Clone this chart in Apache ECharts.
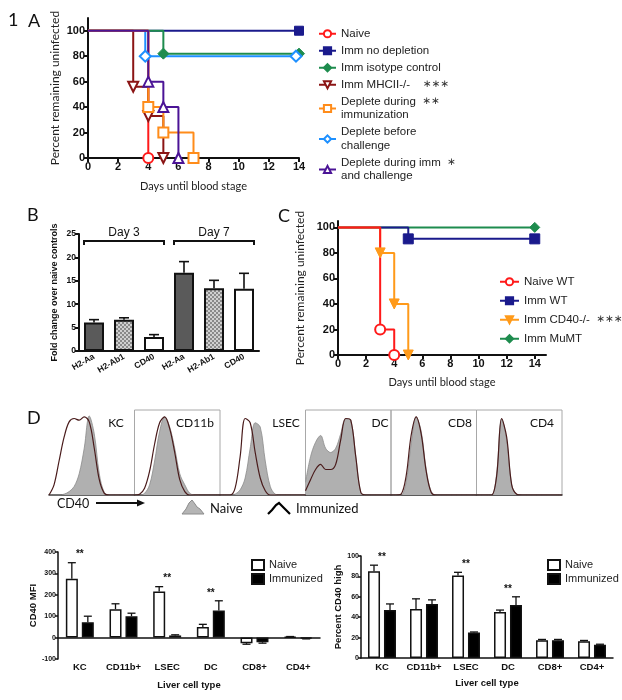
<!DOCTYPE html>
<html>
<head>
<meta charset="utf-8">
<script src="https://cdn.jsdelivr.net/npm/echarts@6/dist/echarts.min.js"></script>
<style>
  html, body { margin: 0; padding: 0; background: #fff; }
  #main { width: 622px; height: 700px; }
</style>
</head>
<body>
<div id="main"></div>
<script>
// ---- panel A: survival, [day, percent uninfected]
var aNaive = [[0, 100], [4, 0]];
var aImmNoDep = [[0, 100], [14, 100]];
var aIsotype = [[0, 100], [5, 82], [14, 82]];
var aMHCII = [[0, 100], [3, 56], [4, 33], [5, 0]];
var aDepImm = [[0, 100], [4, 40], [5, 20], [7, 0]];
var aDepBefore = [[0, 100], [3.8, 80], [13.8, 80]];
var aDepBoth = [[0, 100], [4, 60], [5, 40], [6, 0]];
var dayTicks = [0, 2, 4, 6, 8, 10, 12, 14];
var pctTicks = [0, 20, 40, 60, 80, 100];

// ---- panel B: fold change
var bGenes = ['H2-Aa', 'H2-Ab1', 'CD40', 'H2-Aa', 'H2-Ab1', 'CD40'];
var bFold = [6.1, 6.7, 3.0, 16.7, 13.4, 13.3];
var bErrTop = [6.7, 7.1, 3.5, 19.1, 15.1, 16.6];
var bGroups = ['Day 3', 'Day 7'];
var bGroupSpan = [[0, 2], [3, 5]];

// ---- panel C: survival
var cNaiveWT = [[0, 100], [3, 20], [4, 0]];
var cImmWT = [[0, 100], [5, 91], [14, 91]];
var cCD40 = [[0, 100], [3, 80], [4, 40], [5, 0]];
var cMuMT = [[0, 100], [14, 100]];

// ---- panel D: CD40 histograms (relative counts per bin)
var histBins = [0, 5, 10, 15, 20, 25, 30, 35, 40, 45, 50, 55, 60, 65, 70, 75, 80, 85];
var histCells = ['KC', 'CD11b', 'LSEC', 'DC', 'CD8', 'CD4'];
var kcNaive    = [0, 0, 0, 1, 4, 10, 25, 55, 93, 72, 25, 3, 0, 0, 0, 0, 0, 0];
var kcImm      = [0, 12, 40, 68, 86, 90, 88, 92, 86, 55, 18, 2, 0, 0, 0, 0, 0, 0];
var cd11bNaive = [0, 0, 2, 12, 40, 75, 92, 80, 55, 25, 12, 2, 0, 0, 0, 0, 0, 0];
var cd11bImm   = [0, 1, 8, 28, 60, 85, 92, 78, 50, 18, 4, 0, 0, 0, 0, 0, 0, 0];
var lsecNaive  = [0, 0, 0, 1, 6, 20, 55, 85, 80, 40, 10, 1, 0, 0, 0, 0, 0, 0];
var lsecImm    = [0, 0, 0, 8, 45, 90, 85, 50, 20, 5, 0, 0, 0, 0, 0, 0, 0, 0];
var dcNaive    = [15, 45, 62, 70, 55, 50, 55, 72, 90, 88, 45, 3, 0, 0, 0, 0, 0, 0];
var dcImm      = [5, 18, 30, 36, 30, 30, 36, 65, 90, 88, 45, 3, 0, 0, 0, 0, 0, 0];
var cd8Naive   = [0, 0, 0, 15, 60, 92, 75, 30, 4, 0, 0, 0, 0, 0, 0, 0, 0, 0];
var cd8Imm     = [0, 0, 1, 22, 70, 92, 72, 28, 3, 0, 0, 0, 0, 0, 0, 0, 0, 0];
var cd4Naive   = [0, 0, 0, 0, 25, 90, 65, 12, 1, 0, 0, 0, 0, 0, 0, 0, 0, 0];
var cd4Imm     = [0, 0, 0, 0, 22, 90, 68, 12, 1, 0, 0, 0, 0, 0, 0, 0, 0, 0];
var histNaive = [kcNaive, cd11bNaive, lsecNaive, dcNaive, cd8Naive, cd4Naive];
var histImm = [kcImm, cd11bImm, lsecImm, dcImm, cd8Imm, cd4Imm];

// ---- bottom bars
var cellTypes = ['KC', 'CD11b+', 'LSEC', 'DC', 'CD8+', 'CD4+'];
var mfiNaive = [275, 133, 215, 50, -26, 3];
var mfiNaiveErr = [350, 158, 238, 62, -31, 5];
var mfiImm = [72, 100, 10, 127, -22, -4];
var mfiImmErr = [100, 114, 13, 172, -26, -6];
var mfiSig = ['**', '', '**', '**', '', ''];
var highNaive = [85, 48, 81, 45, 17.5, 16.5];
var highNaiveErr = [91, 58, 84, 47, 18.2, 17.2];
var highImm = [47, 53, 25, 52, 17.5, 13];
var highImmErr = [53, 57, 25.5, 60, 18.2, 13.5];
var highSig = ['**', '', '**', '**', '', ''];

var FONT = "'Liberation Sans', Arial, sans-serif";
var CAL = "Lato, 'Open Sans', sans-serif";
var INK = '#111';

var aLegendText = {
  'Naive': 'Naive',
  'Imm no depletion': 'Imm no depletion',
  'Imm isotype control': 'Imm isotype control',
  'Imm MHCII-/-': 'Imm MHCII-/-    {s|\u2217\u2217\u2217}',
  'Deplete during immunization': 'Deplete during  {s|\u2217\u2217}\nimmunization',
  'Deplete before challenge': 'Deplete before\nchallenge',
  'Deplete during imm and challenge': 'Deplete during imm  {s|\u2217}\nand challenge'
};
var cLegendText = {
  'Naive WT': 'Naive WT', 'Imm WT': 'Imm WT',
  'Imm CD40-/-': 'Imm CD40-/-  {s|\u2217\u2217\u2217}', 'Imm MuMT': 'Imm MuMT'
};

// checkered fill for H2-Ab1 bars
var pc = document.createElement('canvas');
pc.width = 4; pc.height = 4;
var pctx = pc.getContext('2d');
pctx.fillStyle = '#d0d0d0'; pctx.fillRect(0, 0, 4, 4);
pctx.fillStyle = '#8a8a8a'; pctx.fillRect(0, 0, 2, 2); pctx.fillRect(2, 2, 2, 2);
var geneFill = { 'H2-Aa': '#5a5a5a', 'H2-Ab1': { image: pc, repeat: 'repeat' }, 'CD40': '#ffffff' };

function kmSeries(name, pts, color, symbol, open, gi, size, rotate) {
  return {
    name: name, type: 'line', step: 'end', xAxisIndex: gi, yAxisIndex: gi, clip: false,
    symbol: symbol, symbolSize: size, symbolRotate: rotate || 0,
    lineStyle: { color: color, width: 2 },
    itemStyle: open ? { color: '#fff', borderColor: color, borderWidth: 2 } : { color: color, borderColor: color, borderWidth: 1 },
    emphasis: { disabled: true },
    data: pts.map(function (p, i) { return i === 0 ? { value: p, symbol: 'none' } : { value: p }; }),
    z: 3
  };
}

function errBars(gi, vals, tops, dx, cap, lw) {
  return {
    type: 'custom', xAxisIndex: gi, yAxisIndex: gi, z: 4, silent: true,
    data: vals.map(function (v, i) { return [i, v, tops[i]]; }),
    renderItem: function (params, api) {
      var p0 = api.coord([api.value(0), api.value(1)]);
      var p1 = api.coord([api.value(0), api.value(2)]);
      var x = p0[0] + dx;
      return { type: 'group', children: [
        { type: 'line', shape: { x1: x, y1: p0[1], x2: x, y2: p1[1] }, style: { stroke: INK, lineWidth: lw } },
        { type: 'line', shape: { x1: x - cap, y1: p1[1], x2: x + cap, y2: p1[1] }, style: { stroke: INK, lineWidth: lw } }
      ] };
    }
  };
}

function sigMarks(gi, sig, topsA, topsB) {
  var d = [];
  sig.forEach(function (s, i) { if (s) d.push([i, Math.max(topsA[i], topsB[i])]); });
  return {
    type: 'custom', xAxisIndex: gi, yAxisIndex: gi, z: 5, silent: true, data: d,
    renderItem: function (params, api) {
      var p = api.coord([api.value(0), api.value(1)]);
      return { type: 'text', style: { text: sig[api.value(0)], x: p[0], y: p[1] - 3,
        textAlign: 'center', align: 'center', textVerticalAlign: 'bottom', verticalAlign: 'bottom',
        font: 'bold 10px ' + FONT, fill: INK } };
    }
  };
}

function kmAxes(gi, xmax, ymax, xname, yname, xgap, ygap) {
  var lbl = { fontFamily: FONT, fontWeight: 'bold', fontSize: 11, color: INK };
  return {
    x: { gridIndex: gi, type: 'value', min: 0, max: xmax,
      axisLine: { onZero: false, lineStyle: { color: INK, width: 2 } },
      axisTick: { customValues: dayTicks, length: 4, lineStyle: { color: INK, width: 2 } },
      axisLabel: Object.assign({ customValues: dayTicks, margin: 3 }, lbl),
      splitLine: { show: false },
      name: xname, nameLocation: 'middle', nameGap: xgap, nameMoveOverlap: false,
      nameTextStyle: { fontFamily: CAL, fontSize: 11, color: '#222' } },
    y: { gridIndex: gi, type: 'value', min: 0, max: ymax,
      axisLine: { show: true, onZero: false, lineStyle: { color: INK, width: 2 } },
      axisTick: { show: true, customValues: pctTicks, length: 4, lineStyle: { color: INK, width: 2 } },
      axisLabel: Object.assign({ customValues: pctTicks, margin: 3 }, lbl),
      splitLine: { show: false },
      name: yname, nameLocation: 'middle', nameGap: ygap, nameMoveOverlap: false,
      nameTextStyle: { fontFamily: CAL, fontSize: 12, color: '#222' } }
  };
}

var grids = [
  { left: 88, top: 18, width: 211, height: 140 },      // A
  { left: 79, top: 234, width: 180, height: 117 },     // B
  { left: 338, top: 221, width: 208, height: 134 }     // C
];
for (var h = 0; h < 6; h++) {
  var boxed = (h === 1 || h === 3 || h === 4 || h === 5);
  grids.push({ left: 49 + h * 85.5, top: 410, width: 85.5, height: 85,
    show: boxed, borderColor: '#a8a8a8', borderWidth: 1, backgroundColor: 'transparent' });
}
grids.push({ left: 58, top: 552, width: 262, height: 107 });   // MFI
grids.push({ left: 361, top: 556, width: 252, height: 102 });  // percent high
grids.forEach(function (g) { g.outerBoundsMode = 'none'; g.containLabel = false; });

var axA = kmAxes(0, 14, 110, 'Days until blood stage', 'Percent remaining uninfected', 23, 27);
var axC = kmAxes(2, 14.8, 105, 'Days until blood stage', 'Percent remaining uninfected', 22, 32);

var xAxes = [axA.x, {
  gridIndex: 1, type: 'category', data: bGenes,
  axisLine: { lineStyle: { color: INK, width: 2 } }, axisTick: { show: false },
  axisLabel: { interval: 0, rotate: 30, margin: 5, fontFamily: FONT, fontWeight: 'bold', fontSize: 8.5, color: INK }
}, axC.x];
var yAxes = [axA.y, {
  gridIndex: 1, type: 'value', min: 0, max: 25, interval: 5,
  axisLine: { show: true, lineStyle: { color: INK, width: 2 } },
  axisTick: { show: true, length: 4, lineStyle: { color: INK, width: 2 } },
  axisLabel: { margin: 3, fontFamily: FONT, fontWeight: 'bold', fontSize: 8.5, color: INK },
  splitLine: { show: false },
  name: 'Fold change over naive controls', nameLocation: 'middle', nameGap: 20, nameMoveOverlap: false,
  nameTextStyle: { fontFamily: FONT, fontWeight: 'bold', fontSize: 9, color: INK }
}, axC.y];
for (h = 0; h < 6; h++) {
  xAxes.push({ gridIndex: 3 + h, type: 'value', min: 0, max: 85,
    axisLine: { lineStyle: { color: '#333', width: 1.5 } }, axisTick: { show: false },
    axisLabel: { show: false }, splitLine: { show: false } });
  yAxes.push({ gridIndex: 3 + h, type: 'value', min: 0, max: 100, show: false });
}
function barAxes(gi, min, max, step, yname, margin, xgap, ygap) {
  return {
    x: { gridIndex: gi, type: 'category', data: cellTypes,
      axisLine: { onZero: true, lineStyle: { color: INK, width: 1.5 } }, axisTick: { show: false },
      axisLabel: { interval: 0, margin: margin, fontFamily: FONT, fontWeight: 'bold', fontSize: 9.5, color: INK },
      name: 'Liver cell type', nameLocation: 'middle', nameGap: xgap, nameMoveOverlap: false,
      nameTextStyle: { fontFamily: FONT, fontWeight: 'bold', fontSize: 9.5, color: INK } },
    y: { gridIndex: gi, type: 'value', min: min, max: max, interval: step,
      axisLine: { show: true, onZero: false, lineStyle: { color: INK, width: 1.5 } },
      axisTick: { show: true, length: 3, lineStyle: { color: INK, width: 1.5 } },
      axisLabel: { margin: 2, fontFamily: FONT, fontWeight: 'bold', fontSize: 7, color: INK },
      splitLine: { show: false },
      name: yname, nameLocation: 'middle', nameGap: ygap, nameMoveOverlap: false,
      nameTextStyle: { fontFamily: FONT, fontWeight: 'bold', fontSize: 9.5, color: INK } }
  };
}
var axM = barAxes(9, -100, 400, 100, 'CD40 MFI', 3, 21, 20);
var axH = barAxes(10, 0, 100, 20, 'Percent CD40 high', 4, 20, 18);
xAxes.push(axM.x, axH.x);
yAxes.push(axM.y, axH.y);

var series = [
  kmSeries('Imm no depletion', aImmNoDep, '#1a1a8c', 'rect', false, 0, 9),
  kmSeries('Imm isotype control', aIsotype, '#1e8c4e', 'diamond', false, 0, 11),
  kmSeries('Deplete before challenge', aDepBefore, '#1e90ff', 'diamond', true, 0, 11),
  kmSeries('Naive', aNaive, '#ff1a1a', 'circle', true, 0, 10),
  kmSeries('Imm MHCII-/-', aMHCII, '#8b1515', 'triangle', true, 0, 10, 180),
  kmSeries('Deplete during immunization', aDepImm, '#ff8c1a', 'rect', true, 0, 10),
  kmSeries('Deplete during imm and challenge', aDepBoth, '#4b1496', 'triangle', true, 0, 10),

  {
    name: 'fold', type: 'bar', xAxisIndex: 1, yAxisIndex: 1, barWidth: 20, silent: true,
    data: bFold.map(function (v, i) {
      return { value: v, itemStyle: { color: geneFill[bGenes[i]], borderColor: INK, borderWidth: 2 } };
    })
  },
  errBars(1, bFold, bErrTop, 0, 5, 1.6),
  {
    type: 'custom', xAxisIndex: 1, yAxisIndex: 1, silent: true, data: bGroupSpan,
    renderItem: function (params, api) {
      var span = bGroupSpan[params.dataIndex];
      var xa = api.coord([span[0], 0])[0] - 10, xb = api.coord([span[1], 0])[0] + 10;
      var y = api.coord([0, 23.5])[1];
      return { type: 'group', children: [
        { type: 'polyline', shape: { points: [[xa, y + 4], [xa, y], [xb, y], [xb, y + 4]] },
          style: { stroke: INK, lineWidth: 2, fill: null } },
        { type: 'text', style: { text: bGroups[params.dataIndex], x: (xa + xb) / 2, y: y - 2,
          textAlign: 'center', align: 'center', textVerticalAlign: 'bottom', verticalAlign: 'bottom',
          font: '12px ' + FONT, fill: INK } }
      ] };
    }
  },

  kmSeries('Imm MuMT', cMuMT, '#1e8c4e', 'diamond', false, 2, 10),
  kmSeries('Imm WT', cImmWT, '#1a1a8c', 'rect', false, 2, 10),
  kmSeries('Imm CD40-/-', cCD40, '#ff9a1a', 'triangle', false, 2, 10, 180),
  kmSeries('Naive WT', cNaiveWT, '#ff1a1a', 'circle', true, 2, 10)
];

for (h = 0; h < 6; h++) {
  series.push({
    name: histCells[h] + ' naive', type: 'line', xAxisIndex: 3 + h, yAxisIndex: 3 + h,
    smooth: 0.35, symbol: 'none', silent: true, z: 2,
    lineStyle: { color: '#8c8c8c', width: 0.8 },
    areaStyle: { color: '#b0b0b0', opacity: 1 },
    data: histBins.map(function (b, i) { return [b, histNaive[h][i]]; })
  });
  series.push({
    name: histCells[h] + ' immunized', type: 'line', xAxisIndex: 3 + h, yAxisIndex: 3 + h,
    smooth: 0.35, symbol: 'none', silent: true, z: 3,
    lineStyle: { color: '#4a1c1c', width: 1.2 },
    data: histBins.map(function (b, i) { return [b, histImm[h][i]]; })
  });
}

function barPair(gi, prefix, nv, iv) {
  return [
    { name: prefix + ' Naive', type: 'bar', xAxisIndex: gi, yAxisIndex: gi, barWidth: 12, barGap: '33%',
      itemStyle: { color: '#fff', borderColor: INK, borderWidth: 1.5 }, data: nv, silent: true },
    { name: prefix + ' Immunized', type: 'bar', xAxisIndex: gi, yAxisIndex: gi, barWidth: 12, barGap: '33%',
      itemStyle: { color: '#000', borderColor: INK, borderWidth: 1.5 }, data: iv, silent: true }
  ];
}
series = series.concat(barPair(9, 'MFI', mfiNaive, mfiImm));
series.push(errBars(9, mfiNaive, mfiNaiveErr, -8, 4, 1.3));
series.push(errBars(9, mfiImm, mfiImmErr, 8, 4, 1.3));
series.push(sigMarks(9, mfiSig, mfiNaiveErr, mfiImmErr));
series = series.concat(barPair(10, 'High', highNaive, highImm));
series.push(errBars(10, highNaive, highNaiveErr, -8, 4, 1.3));
series.push(errBars(10, highImm, highImmErr, 8, 4, 1.3));
series.push(sigMarks(10, highSig, highNaiveErr, highImmErr));

function stripPrefix(n) { return n.replace(/^(MFI|High) /, ''); }

var legendText = { fontFamily: FONT, fontSize: 11.5, color: '#222', lineHeight: 13.5,
  rich: { s: { fontSize: 10.5, fontFamily: 'DejaVu Sans', color: '#333', lineHeight: 13.5 } } };

function txt(t, x, y, font, align) {
  return { type: 'text', x: x, y: y, silent: true,
    style: { text: t, font: font, fill: INK, textAlign: align || 'left', align: align || 'left',
      textVerticalAlign: 'middle', verticalAlign: 'middle' } };
}

var graphic = [
  txt('1', 8, 20, '18px ' + CAL),
  txt('A', 28, 21, '18px ' + CAL),
  txt('B', 27, 215, '18px ' + CAL),
  txt('C', 278, 216, '18px ' + CAL),
  txt('D', 27, 418, '18px ' + CAL),
  txt('KC', 116, 423, '12px ' + CAL, 'center'),
  txt('CD11b', 195, 423, '12px ' + CAL, 'center'),
  txt('LSEC', 286, 423, '12px ' + CAL, 'center'),
  txt('DC', 380, 423, '12px ' + CAL, 'center'),
  txt('CD8', 460, 423, '12px ' + CAL, 'center'),
  txt('CD4', 542, 423, '12px ' + CAL, 'center'),
  txt('CD40', 57, 504, '12.5px ' + CAL),
  { type: 'polyline', silent: true, shape: { points: [[96, 503], [139, 503]] }, style: { stroke: INK, lineWidth: 2 } },
  { type: 'polygon', silent: true, shape: { points: [[137, 499.5], [145, 503], [137, 506.5]] }, style: { fill: INK } },
  { type: 'polygon', silent: true,
    shape: { points: [[182, 514], [186, 509], [189, 503], [192, 500], [195, 504], [197, 507], [200, 509], [204, 514]] },
    style: { fill: '#b5b5b5', stroke: '#8c8c8c', lineWidth: 1 } },
  txt('Naive', 210, 509, '13px ' + CAL),
  { type: 'polyline', silent: true,
    shape: { points: [[268, 514], [272, 510], [276, 505], [279, 503], [282, 506], [285, 509], [290, 514]] },
    style: { stroke: '#000', lineWidth: 2.2, fill: null } },
  txt('Immunized', 296, 509, '13px ' + CAL)
];

var option = {
  animation: false,
  backgroundColor: '#fff',
  grid: grids,
  xAxis: xAxes,
  yAxis: yAxes,
  legend: [
    { data: Object.keys(aLegendText), orient: 'vertical', left: 313, top: 22, itemWidth: 17, itemHeight: 9,
      itemGap: 3.5, selectedMode: false, textStyle: legendText,
      formatter: function (n) { return aLegendText[n]; } },
    { data: ['Naive WT', 'Imm WT', 'Imm CD40-/-', 'Imm MuMT'], orient: 'vertical', left: 494, top: 270,
      itemWidth: 19, itemHeight: 9, itemGap: 5.5, selectedMode: false, textStyle: legendText,
      formatter: function (n) { return cLegendText[n]; } },
    { data: ['MFI Naive', 'MFI Immunized'], orient: 'vertical', left: 246, top: 554, icon: 'rect',
      itemWidth: 12, itemHeight: 10, itemGap: 2, selectedMode: false,
      textStyle: { fontFamily: FONT, fontSize: 11, color: '#222' }, formatter: stripPrefix },
    { data: ['High Naive', 'High Immunized'], orient: 'vertical', left: 542, top: 554, icon: 'rect',
      itemWidth: 12, itemHeight: 10, itemGap: 2, selectedMode: false,
      textStyle: { fontFamily: FONT, fontSize: 11, color: '#222' }, formatter: stripPrefix }
  ],
  graphic: graphic,
  series: series
};

var chart = echarts.init(document.getElementById('main'), null, { width: 622, height: 700 });
chart.setOption(option);
</script>
</body>
</html>
